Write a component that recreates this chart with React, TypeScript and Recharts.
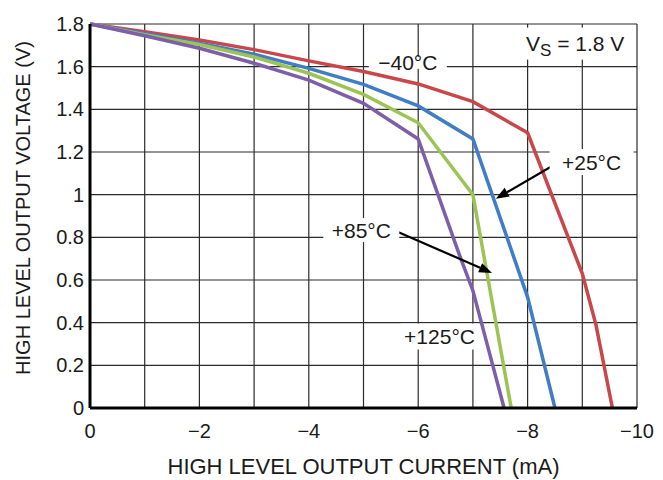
import React from 'react'
import { LineChart, Line, XAxis, YAxis, CartesianGrid, ReferenceDot, ReferenceLine } from 'recharts'

// current (mA) and voltage (V) per temperature
const iNeg40 = [0, -1, -2, -3, -4, -5, -6, -7, -8, -9, -9.25, -9.55]
const vNeg40 = [1.8, 1.764, 1.725, 1.68, 1.627, 1.577, 1.519, 1.436, 1.29, 0.63, 0.39, 0]
const i25 = [0, -1, -2, -3, -4, -5, -6, -7, -8, -8.5]
const v25 = [1.8, 1.756, 1.71, 1.658, 1.592, 1.517, 1.416, 1.261, 0.52, 0]
const i85 = [0, -1, -2, -3, -4, -5, -6, -7, -7.7]
const v85 = [1.8, 1.75, 1.704, 1.645, 1.569, 1.47, 1.337, 1.0, 0]
const i125 = [0, -1, -2, -3, -4, -5, -6, -6.75, -7, -7.57]
const v125 = [1.8, 1.745, 1.686, 1.616, 1.537, 1.428, 1.261, 0.72, 0.55, 0]

const xTicks = [0, -1, -2, -3, -4, -5, -6, -7, -8, -9, -10]
const yTicks = [0, 0.2, 0.4, 0.6, 0.8, 1, 1.2, 1.4, 1.6, 1.8]

const zip = (xs: number[], ys: number[]) => xs.map((x, k) => ({ i: x, v: ys[k] }))

const font = '"Liberation Sans", Arial, Helvetica, sans-serif'
const ink = '#1a1a1a'

const fmtX = (v: number) => (v % 2 !== 0 ? '' : v === 0 ? '0' : '\u2212' + Math.abs(v))
const fmtY = (v: number) => String(Number(v.toFixed(1)))

const tag = (w: number, h: number, body: React.ReactNode, size = 20) => (props: any) => {
  const vb = props.viewBox
  const cx = vb.x + vb.width / 2
  const cy = vb.y + vb.height / 2
  return (
    <g>
      <rect x={cx - w / 2} y={cy - h / 2} width={w} height={h} fill="#fff" />
      <text x={cx} y={cy + size * 0.36} textAnchor="middle" fontSize={size} fontFamily={font} fill={ink}>{body}</text>
    </g>
  )
}

const arrow = (p: any) => {
  const { x1, y1, x2, y2 } = p
  const a = Math.atan2(y2 - y1, x2 - x1)
  const L = 13, W = 5
  const bx = x2 - L * Math.cos(a), by = y2 - L * Math.sin(a)
  const nx = -Math.sin(a) * W, ny = Math.cos(a) * W
  return (
    <g>
      <line x1={x1} y1={y1} x2={bx} y2={by} stroke="#000" strokeWidth={2.2} />
      <polygon points={`${x2},${y2} ${bx + nx},${by + ny} ${bx - nx},${by - ny}`} fill="#000" />
    </g>
  )
}

export default function App() {
  return (
    <div style={{ position: 'absolute', left: 0, top: 0, background: '#fff' }}>
      <LineChart width={663} height={480} margin={{ top: 24, right: 26, left: 0, bottom: 0 }}>
        <CartesianGrid stroke="#2b2b2b" strokeWidth={1.2} />
        <XAxis
          type="number" dataKey="i" domain={[-10, 0]} reversed ticks={xTicks} interval={0}
          tickFormatter={fmtX} tickLine={false} tickSize={0} tickMargin={16} height={72}
          axisLine={{ stroke: '#000', strokeWidth: 3 }}
          tick={{ fontSize: 20, fontFamily: font, fill: ink }}
          label={{ value: 'HIGH LEVEL OUTPUT CURRENT (mA)', position: 'insideBottom', offset: 6, fontSize: 22, fontFamily: font, fill: ink }}
        />
        <YAxis
          type="number" domain={[0, 1.8]} ticks={yTicks} interval={0} width={90}
          tickFormatter={fmtY} tickLine={false} tickSize={0} tickMargin={6}
          axisLine={{ stroke: '#000', strokeWidth: 3 }}
          tick={{ fontSize: 20, fontFamily: font, fill: ink }}
          label={{ value: 'HIGH LEVEL OUTPUT VOLTAGE (V)', angle: -90, position: 'center', dx: -22, dy: -8, fontSize: 20, fontFamily: font, fill: ink }}
        />
        <Line data={zip(iNeg40, vNeg40)} dataKey="v" stroke="#c9474b" strokeWidth={3.5} dot={false} isAnimationActive={false} />
        <Line data={zip(i25, v25)} dataKey="v" stroke="#3f7dc6" strokeWidth={3.5} dot={false} isAnimationActive={false} />
        <Line data={zip(i85, v85)} dataKey="v" stroke="#9cc455" strokeWidth={3.5} dot={false} isAnimationActive={false} />
        <Line data={zip(i125, v125)} dataKey="v" stroke="#7c5ea9" strokeWidth={3.5} dot={false} isAnimationActive={false} />

        <ReferenceLine segment={[{ x: -8.56, y: 1.151 }, { x: -7.42, y: 0.981 }]} shape={arrow} />
        <ReferenceLine segment={[{ x: -5.63, y: 0.825 }, { x: -7.35, y: 0.633 }]} shape={arrow} />

        <ReferenceDot x={-5.81} y={1.618} r={0} fill="none" stroke="none" label={tag(78, 12, '\u221240\u00b0C', 21)} />
        <ReferenceDot x={-9.17} y={1.153} r={0} fill="none" stroke="none" label={tag(84, 26, '+25\u00b0C', 21)} />
        <ReferenceDot x={-4.96} y={0.834} r={0} fill="none" stroke="none" label={tag(76, 24, '+85\u00b0C', 21)} />
        <ReferenceDot x={-6.39} y={0.335} r={0} fill="none" stroke="none" label={tag(78, 26, '+125\u00b0C', 21)} />
        <ReferenceDot
          x={-8.87} y={1.708} r={0} fill="none" stroke="none"
          label={tag(112, 32, <>V<tspan fontSize={17} dy={5}>S</tspan><tspan dy={-5}> = 1.8 V</tspan></>, 21)}
        />
      </LineChart>
    </div>
  )
}
